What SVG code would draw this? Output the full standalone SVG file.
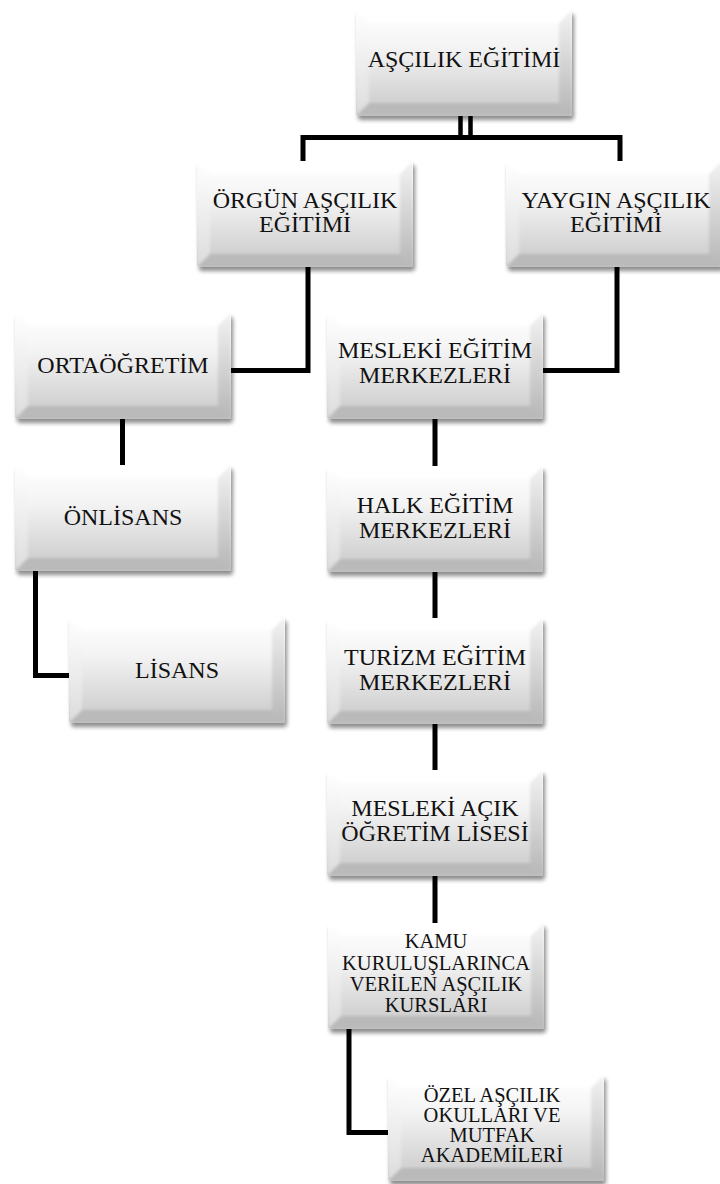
<svg xmlns="http://www.w3.org/2000/svg" xmlns:xlink="http://www.w3.org/1999/xlink" width="720" height="1184" viewBox="0 0 720 1184">
  <style>
    .lbl { font-family: "Liberation Serif", "Times New Roman", serif; font-size: 24px; fill: #111; text-anchor: middle; }
    .sm { font-size: 20.5px; }
    .wire { fill: none; stroke: #000; stroke-width: 5; stroke-linejoin: miter; stroke-linecap: butt; }
  </style>
  <defs>
    <linearGradient id="face" x1="0" y1="0" x2="0" y2="1">
      <stop offset="0" stop-color="#ffffff"/>
      <stop offset="0.35" stop-color="#f4f4f4"/>
      <stop offset="1" stop-color="#c8c8c8"/>
    </linearGradient>
    <linearGradient id="sideL" x1="0" y1="0" x2="0" y2="1">
      <stop offset="0" stop-color="#ffffff"/>
      <stop offset="1" stop-color="#dcdcdc"/>
    </linearGradient>
    <linearGradient id="sideR" x1="0" y1="0" x2="0" y2="1">
      <stop offset="0" stop-color="#f2f2f2"/>
      <stop offset="1" stop-color="#b6b6b6"/>
    </linearGradient>
    <filter id="shadow" x="-10%" y="-10%" width="125%" height="130%">
      <feGaussianBlur in="SourceAlpha" stdDeviation="2"/>
      <feOffset dx="2" dy="4" result="b"/>
      <feComponentTransfer in="b" result="s"><feFuncA type="linear" slope="0.45"/></feComponentTransfer>
      <feMerge><feMergeNode in="s"/><feMergeNode in="SourceGraphic"/></feMerge>
    </filter>
    <filter id="soft" x="-5%" y="-5%" width="110%" height="110%">
      <feGaussianBlur stdDeviation="1.8"/>
    </filter>
    <clipPath id="boxClip"><rect x="0" y="0" width="216" height="106" rx="3"/></clipPath>
    <!-- bevelled grey tile shared by every node -->
    <symbol id="tile" overflow="visible">
      <rect x="0" y="0" width="216" height="106" rx="3" fill="url(#face)" filter="url(#shadow)"/>
      <g clip-path="url(#boxClip)">
        <g filter="url(#soft)">
          <polygon points="0,0 216,0 203,13 13,13" fill="#ffffff" opacity="0.9"/>
          <polygon points="0,0 13,13 13,93 0,106" fill="url(#sideL)"/>
          <polygon points="216,0 216,106 203,93 203,13" fill="url(#sideR)"/>
          <polygon points="0,106 216,106 203,93 13,93" fill="#bababa"/>
        </g>
      </g>
    </symbol>
  </defs>

  <rect width="720" height="1184" fill="#ffffff"/>

  <g id="connectors">
    <line class="wire" x1="460.5" y1="116" x2="460.5" y2="137" style="stroke-width:4.5"/>
    <line class="wire" x1="470.5" y1="116" x2="470.5" y2="137" style="stroke-width:4.5"/>
    <path class="wire" d="M303,162 V137.5 H620 V162"/>
    <path class="wire" d="M308,266 V370.5 H229"/>
    <path class="wire" d="M617,266 V370.5 H540"/>
    <path class="wire" d="M122.5,418 V466"/>
    <path class="wire" d="M35.5,571 V675.5 H70"/>
    <path class="wire" d="M435,418 V468"/>
    <path class="wire" d="M435,571 V618"/>
    <path class="wire" d="M435,723 V771"/>
    <path class="wire" d="M435,876 V924"/>
    <path class="wire" d="M349,1027 V1132.5 H389"/>
  </g>

  <g id="asci-egitimi">
    <use xlink:href="#tile" x="356" y="10"/>
    <text class="lbl" x="464" y="67">AŞÇILIK EĞİTİMİ</text>
  </g>
  <g id="orgun">
    <use xlink:href="#tile" x="197" y="161"/>
    <text class="lbl" x="305" y="208">ÖRGÜN AŞÇILIK</text>
    <text class="lbl" x="305" y="232">EĞİTİMİ</text>
  </g>
  <g id="yaygin">
    <use xlink:href="#tile" x="506" y="161"/>
    <text class="lbl" x="616" y="208">YAYGIN AŞÇILIK</text>
    <text class="lbl" x="616" y="232">EĞİTİMİ</text>
  </g>
  <g id="ortaogretim">
    <use xlink:href="#tile" x="15" y="313"/>
    <text class="lbl" x="123" y="373">ORTAÖĞRETİM</text>
  </g>
  <g id="onlisans">
    <use xlink:href="#tile" x="15" y="465"/>
    <text class="lbl" x="123" y="525">ÖNLİSANS</text>
  </g>
  <g id="lisans">
    <use xlink:href="#tile" x="69" y="617"/>
    <text class="lbl" x="177" y="678">LİSANS</text>
  </g>
  <g id="mesleki-egitim">
    <use xlink:href="#tile" x="327" y="313"/>
    <text class="lbl" x="435" y="358">MESLEKİ EĞİTİM</text>
    <text class="lbl" x="435" y="383">MERKEZLERİ</text>
  </g>
  <g id="halk-egitim">
    <use xlink:href="#tile" x="327" y="466"/>
    <text class="lbl" x="435" y="513">HALK EĞİTİM</text>
    <text class="lbl" x="435" y="538">MERKEZLERİ</text>
  </g>
  <g id="turizm-egitim">
    <use xlink:href="#tile" x="327" y="618"/>
    <text class="lbl" x="435" y="665">TURİZM EĞİTİM</text>
    <text class="lbl" x="435" y="690">MERKEZLERİ</text>
  </g>
  <g id="mesleki-acik">
    <use xlink:href="#tile" x="327" y="770"/>
    <text class="lbl" x="435" y="816">MESLEKİ AÇIK</text>
    <text class="lbl" x="435" y="841">ÖĞRETİM LİSESİ</text>
  </g>
  <g id="kamu-kurslari">
    <use xlink:href="#tile" x="328" y="923"/>
    <text class="lbl sm" x="436" y="948">KAMU</text>
    <text class="lbl sm" x="436" y="970">KURULUŞLARINCA</text>
    <text class="lbl sm" x="436" y="991">VERİLEN AŞÇILIK</text>
    <text class="lbl sm" x="436" y="1012">KURSLARI</text>
  </g>
  <g id="ozel-okullar">
    <use xlink:href="#tile" x="388" y="1075"/>
    <text class="lbl sm" x="492" y="1102">ÖZEL AŞÇILIK</text>
    <text class="lbl sm" x="492" y="1122">OKULLARI VE</text>
    <text class="lbl sm" x="492" y="1142">MUTFAK</text>
    <text class="lbl sm" x="492" y="1162">AKADEMİLERİ</text>
  </g>
</svg>
